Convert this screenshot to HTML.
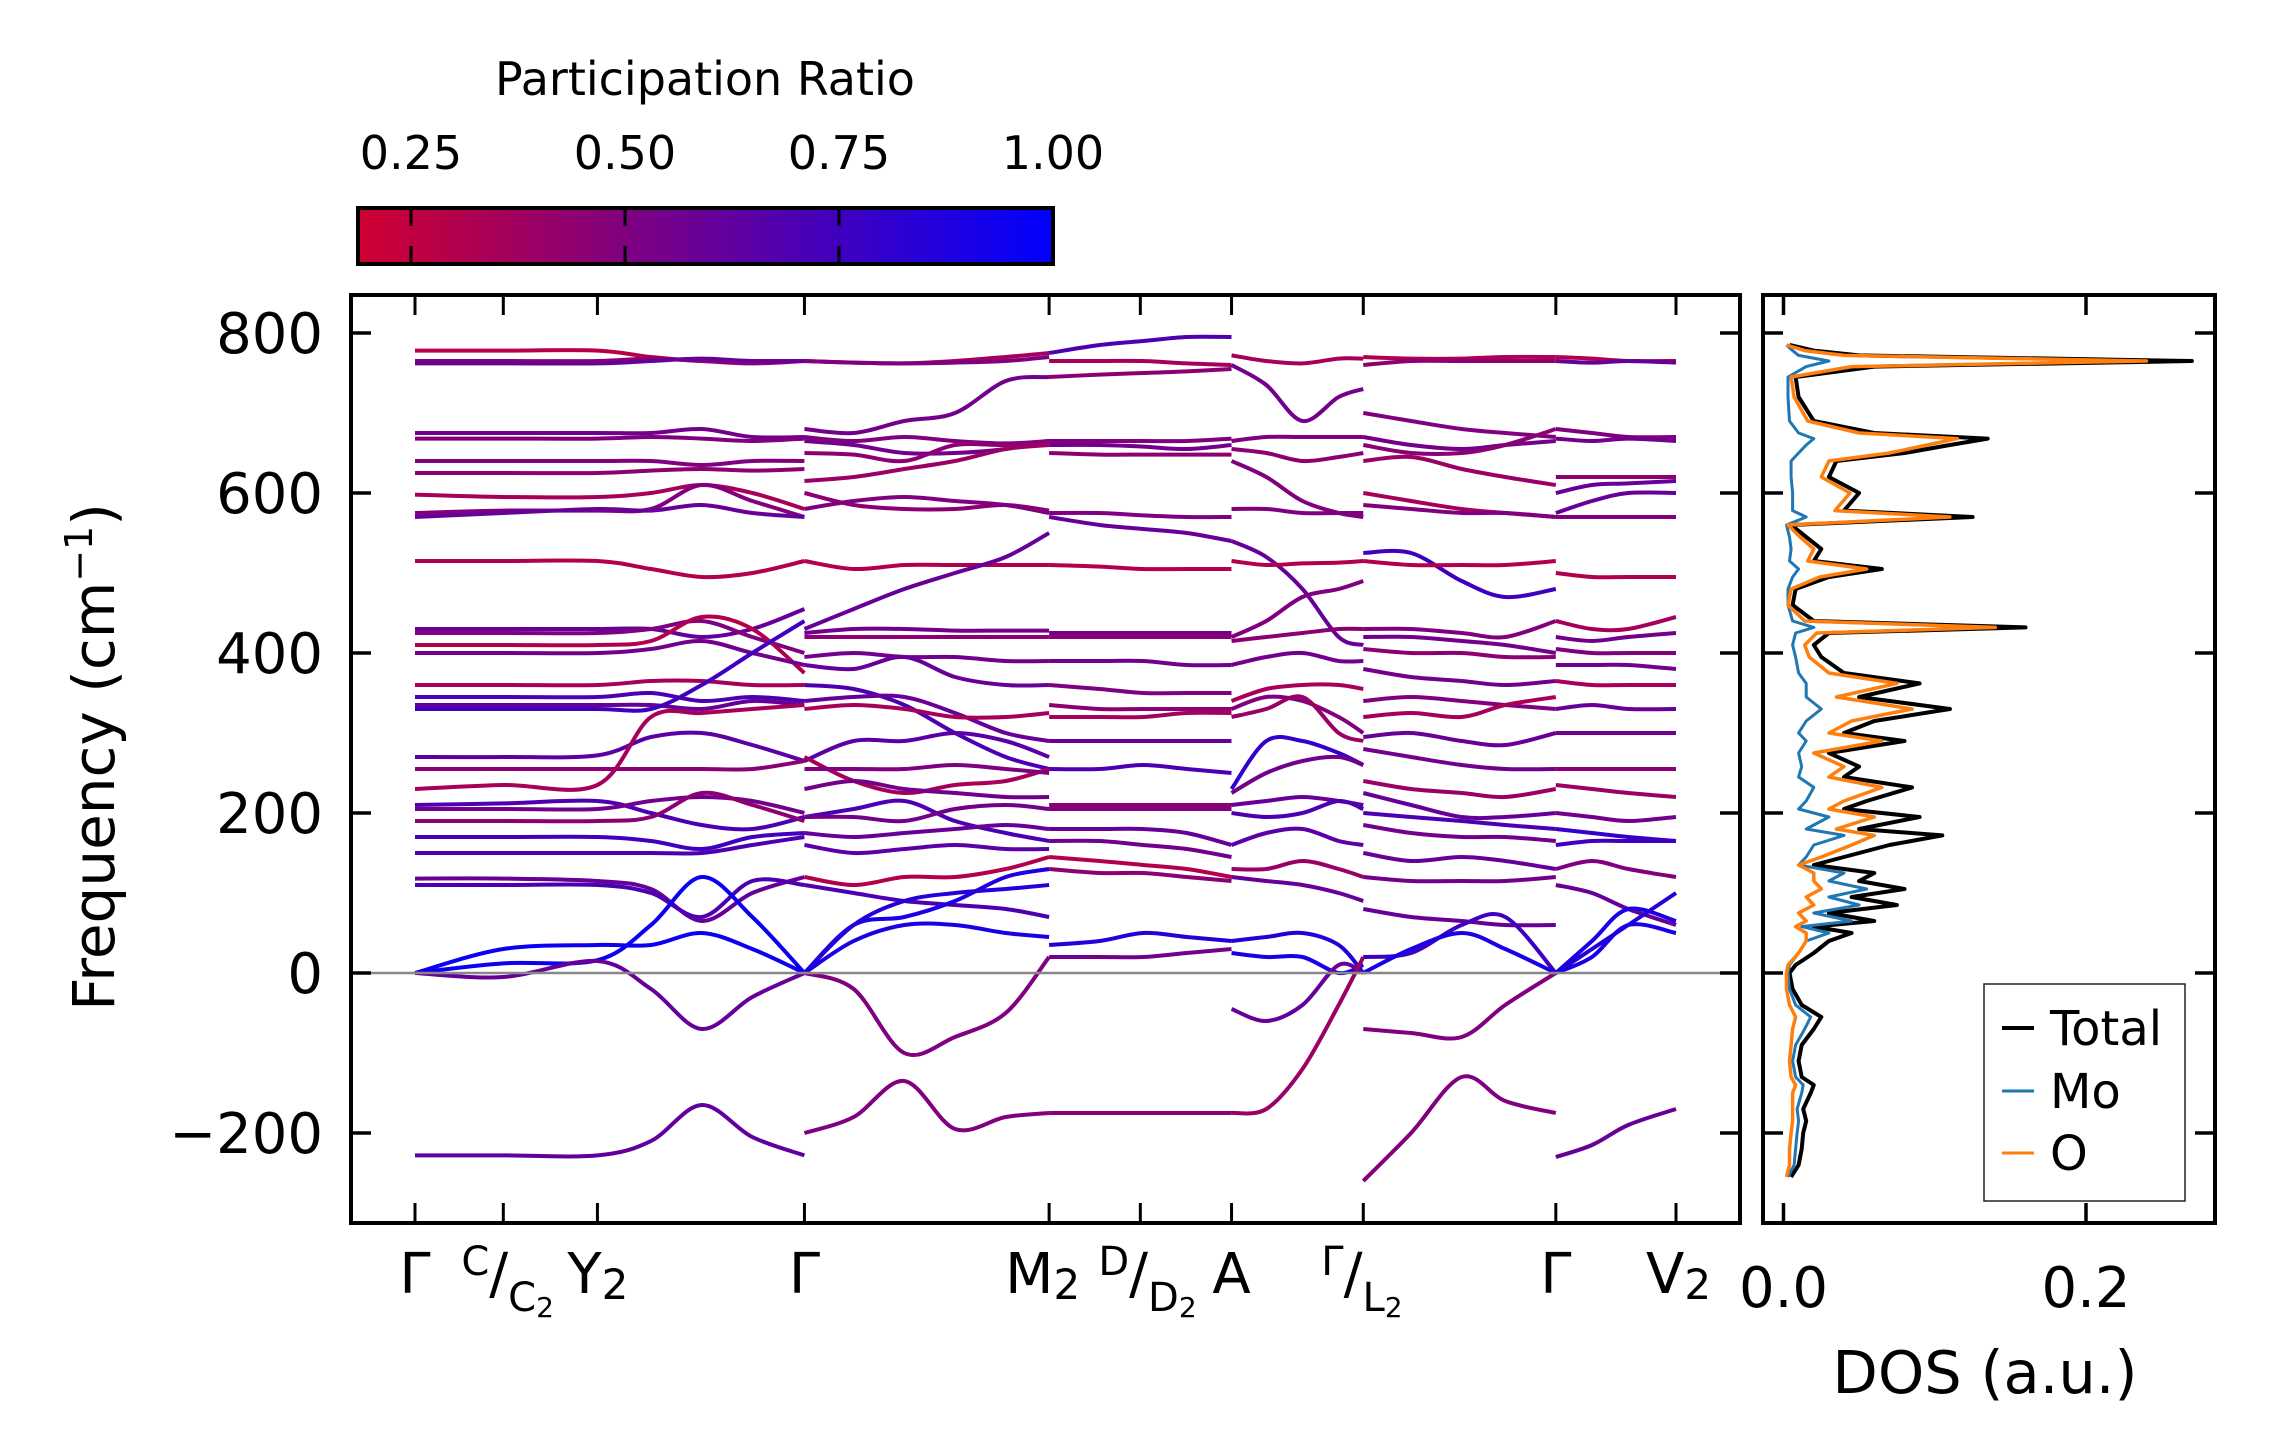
<!DOCTYPE html>
<html><head><meta charset="utf-8"><style>
html,body{margin:0;padding:0;background:#fff;}
svg{display:block;font-family:"DejaVu Sans","Liberation Sans",sans-serif;}
</style></head><body>
<svg id="chart" width="2271" height="1455" viewBox="0 0 2271 1455" xmlns="http://www.w3.org/2000/svg">
<defs>
<linearGradient id="cbgrad" x1="0" x2="1" y1="0" y2="0">
<stop offset="0" stop-color="rgb(208,0,48)"/><stop offset="1" stop-color="rgb(0,0,255)"/>
</linearGradient>
<clipPath id="mainclip"><rect x="351" y="295" width="1389" height="928"/></clipPath>
<clipPath id="dosclip"><rect x="1763" y="295" width="452" height="928"/></clipPath>
</defs>
<g id="colorbar">
<text x="705" y="95" font-size="46" text-anchor="middle">Participation Ratio</text>
<rect x="358" y="208" width="695" height="56" fill="url(#cbgrad)" stroke="#000" stroke-width="4"/>
<g id="cbticks"></g>
</g>
<g id="bands" clip-path="url(#mainclip)"></g>
<line x1="351" x2="1740" y1="973" y2="973" stroke="#888" stroke-width="2.5"/>
<rect x="351" y="295" width="1389" height="928" fill="none" stroke="#000" stroke-width="4"/>
<g id="mainticks"></g>
<text transform="translate(114,757) rotate(-90)" font-size="58" text-anchor="middle">Frequency (cm<tspan dy="-22" font-size="38">−1</tspan><tspan dy="22">)</tspan></text>
<g id="dos" clip-path="url(#dosclip)"></g>
<rect x="1763" y="295" width="452" height="928" fill="none" stroke="#000" stroke-width="4"/>
<g id="dosticks"></g>
<text x="1985" y="1393" font-size="59" text-anchor="middle">DOS (a.u.)</text>
<g>
<rect x="1984" y="984" width="201" height="217" fill="#fff" stroke="#222" stroke-width="1.5"/>
<line x1="2002" x2="2034" y1="1028" y2="1028" stroke="#000" stroke-width="4"/>
<text x="2050" y="1045" font-size="48">Total</text>
<line x1="2002" x2="2034" y1="1091" y2="1091" stroke="#1f77b4" stroke-width="3"/>
<text x="2050" y="1108" font-size="48">Mo</text>
<line x1="2002" x2="2034" y1="1153" y2="1153" stroke="#ff7f0e" stroke-width="3"/>
<text x="2050" y="1170" font-size="48">O</text>
</g>
</svg>
<script>
// ---- data ----
const kTickPos = [0,61,126,269,438,501,564,655,788,871];
const kTickLabels = ['Γ','C/C2','Y2','Γ','M2','D/D2','A','Γ/L2','Γ','V2'];
const yTicks = [-200,0,200,400,600,800];
const cbTicks = [0.25,0.50,0.75,1.00];
const cbTickLabels = ['0.25','0.50','0.75','1.00'];
const dosTicks = [0.0,0.2];
const dosTickLabels = ['0.0','0.2'];

const s1K = [0,61,126,163,198,233,269];
const s1F = [
[778,778,778,770,765,765,765],[765,765,765,768,765,762,765],[762,762,762,765,768,765,765],
[675,675,675,675,680,670,670],[668,668,668,670,668,665,668],[640,640,640,640,635,640,640],
[625,625,625,628,630,628,630],[598,595,595,600,610,600,580],[575,578,578,580,610,590,570],
[570,575,580,578,585,575,570],[515,515,515,505,495,500,515],[430,430,430,430,420,430,455],
[425,425,425,430,440,420,400],[410,410,410,415,445,430,375],[400,400,400,405,415,400,385],
[360,360,360,365,365,360,360],[345,345,345,350,340,345,340],[335,335,335,335,330,340,335],
[330,330,330,330,360,400,440],[270,270,272,295,300,285,265],[255,255,255,255,255,255,265],
[230,235,235,320,325,330,335],[210,212,215,200,185,180,195],[205,205,205,215,220,215,200],
[190,190,190,195,225,210,190],[170,170,170,165,155,170,175],[150,150,150,150,150,160,170],
[118,118,115,105,65,100,120],[110,110,110,100,70,115,110],[0,12,16,60,120,70,0],
[0,30,35,35,50,30,0],[0,-5,15,-20,-70,-30,0],[-228,-228,-228,-210,-165,-205,-228]];
const s1P = [.28,.45,.6,.55,.5,.5,.45,.35,.5,.6,.3,.6,.5,.3,.55,.35,.7,.6,.75,.65,.45,.35,.7,.55,.45,.75,.7,.6,.7,.95,.95,.6,.62];

const s2K = [269,303,338,373,408,438];
const s2F = [
[765,763,762,765,770,775],[765,763,762,763,765,770],[680,675,690,700,740,745],
[670,665,670,665,662,665],[665,660,650,650,655,665],[650,648,640,660,660,665],
[615,620,630,640,655,660],[600,585,580,580,585,578],[580,590,595,590,585,575],
[515,505,510,510,510,510],[430,455,480,500,520,550],[425,430,430,428,428,428],
[420,420,420,420,420,420],[395,400,395,395,390,390],[385,380,395,370,360,360],
[360,355,335,300,270,255],[340,345,345,325,300,290],[330,335,330,320,320,325],
[265,290,290,300,290,270],[270,240,225,235,240,255],[255,255,255,260,255,250],
[230,240,230,225,220,220],[195,205,215,190,175,165],[195,195,190,205,210,205],
[175,170,175,180,185,180],[160,150,155,160,155,155],[120,110,120,120,130,145],
[110,100,90,85,80,70],[0,60,70,90,120,130],[0,60,90,100,105,110],
[0,40,60,60,50,45],[0,-20,-100,-80,-50,20],[-200,-180,-135,-195,-180,-175]];
const s2P = [.35,.5,.55,.5,.55,.45,.4,.45,.5,.3,.6,.55,.45,.55,.6,.7,.6,.35,.65,.35,.5,.55,.7,.55,.6,.65,.3,.7,.9,.85,.9,.5,.5];

const s3K = [438,473,503,533,564];
const s3F = [
[775,785,790,795,795],[765,765,765,762,760],[745,748,750,752,755],
[665,665,665,665,668],[660,660,658,655,660],[650,648,648,648,648],
[575,575,572,570,570],[570,560,555,550,540],[510,508,505,505,505],
[425,425,425,425,425],[420,420,420,420,420],[390,390,390,385,385],
[360,355,350,350,350],[335,330,330,330,330],[320,320,320,325,325],
[255,255,260,255,250],[290,290,290,290,290],[210,210,210,210,210],
[205,205,205,205,205],[180,180,180,175,160],[165,165,160,155,145],
[145,140,135,130,120],[130,125,125,120,115],[35,40,50,45,40],
[20,20,20,25,30],[-175,-175,-175,-175,-175]];
const s3P = [.7,.35,.45,.5,.55,.45,.5,.6,.3,.55,.45,.55,.5,.45,.35,.7,.6,.45,.5,.6,.55,.3,.45,.85,.55,.45];

const s4K = [564,588,613,638,655];
const s4F = [
[772,765,762,768,768],[760,735,690,720,730],[665,670,670,670,670],
[655,650,640,645,650],[640,620,590,575,570],[580,580,575,575,575],
[540,520,480,420,410],[420,440,470,480,490],[515,510,512,513,515],
[415,420,425,430,430],[385,395,400,390,390],[340,355,360,360,355],
[330,345,340,320,300],[320,330,345,300,290],[230,290,290,275,260],
[225,250,265,270,260],[210,215,220,215,210],[200,195,200,215,205],
[160,175,180,165,160],[130,130,140,130,120],[120,115,110,100,90],
[40,45,50,35,0],[25,20,20,0,10],[-45,-60,-40,10,0],[-175,-170,-120,-40,20]];
const s4P = [.35,.55,.5,.45,.5,.5,.6,.5,.3,.45,.55,.35,.5,.4,.8,.55,.6,.7,.65,.4,.6,.85,.9,.6,.4];

const s5K = [655,688,723,753,788];
const s5F = [
[770,768,768,770,770],[760,765,765,765,765],[700,690,680,675,670],
[670,660,655,660,665],[660,650,650,660,680],[640,645,630,620,610],
[600,590,580,575,570],[585,580,575,575,570],[525,525,490,470,480],
[515,510,510,510,515],[430,430,425,420,440],[420,420,415,410,400],
[405,400,400,395,395],[380,370,365,360,365],[340,345,340,335,330],
[320,325,320,335,345],[295,300,290,285,300],[280,270,260,255,255],
[240,230,225,220,230],[225,210,195,195,200],[200,195,190,185,180],
[185,175,170,170,165],[150,140,145,140,130],[120,115,115,115,120],
[80,70,65,60,60],[20,25,60,70,0],[0,30,50,30,0],[-70,-75,-80,-40,0],[-260,-200,-130,-160,-175]];
const s5P = [.3,.45,.5,.55,.45,.4,.35,.5,.75,.3,.5,.55,.45,.55,.5,.35,.6,.55,.4,.6,.7,.55,.6,.55,.6,.75,.9,.5,.5];

const s6K = [788,813,838,871];
const s6F = [
[770,768,765,765],[765,763,765,763],[680,675,670,670],[668,665,668,665],
[620,620,620,620],[600,610,612,615],[575,590,600,600],[570,570,570,570],
[500,495,495,495],[440,430,430,445],[420,415,420,425],[405,400,400,400],
[385,385,385,380],[365,360,360,360],[330,335,330,330],[300,300,300,300],
[255,255,255,255],[235,230,225,220],[200,195,190,195],[180,175,170,165],
[160,165,165,165],[130,140,130,120],[110,100,80,60],[0,40,80,65],
[0,30,60,100],[0,20,60,50],[-230,-215,-190,-170]];
const s6P = [.3,.6,.5,.55,.45,.6,.6,.5,.3,.35,.55,.5,.55,.35,.6,.55,.45,.4,.55,.8,.75,.5,.6,.9,.85,.9,.6];

const dosFreq  = [-255,-240,-220,-200,-185,-170,-150,-140,-130,-110,-90,-70,-55,-40,-20,0,10,25,40,50,58,65,75,85,95,105,115,125,135,145,160,172,180,195,205,215,232,245,258,275,290,300,315,330,345,362,375,395,410,425,432,440,460,480,495,505,515,530,545,560,570,578,600,620,640,650,660,668,675,690,720,745,758,765,772,778,785];
const dosTotal = [.005,.01,.012,.013,.015,.013,.018,.02,.012,.01,.012,.02,.025,.012,.006,.004,.008,.02,.03,.045,.02,.06,.03,.075,.045,.08,.05,.06,.02,.04,.07,.105,.05,.09,.04,.055,.085,.04,.05,.03,.08,.04,.06,.11,.05,.09,.04,.025,.02,.03,.16,.02,.006,.008,.03,.065,.02,.025,.015,.005,.125,.04,.05,.03,.035,.08,.11,.135,.06,.02,.01,.008,.06,.27,.05,.02,.004];
const dosMo    = [.003,.007,.008,.009,.01,.009,.012,.013,.008,.006,.008,.014,.018,.008,.004,.003,.004,.01,.015,.03,.012,.045,.02,.05,.03,.055,.03,.04,.01,.015,.02,.04,.015,.03,.01,.015,.02,.01,.012,.01,.015,.01,.015,.025,.015,.015,.01,.008,.006,.008,.02,.006,.003,.003,.006,.01,.004,.005,.004,.002,.015,.006,.006,.005,.005,.01,.015,.02,.01,.004,.003,.003,.015,.03,.01,.006,.002];
const dosO     = [.002,.004,.004,.005,.006,.006,.006,.008,.005,.004,.005,.006,.008,.004,.002,.002,.003,.01,.015,.015,.008,.015,.01,.02,.015,.025,.02,.02,.01,.025,.045,.06,.035,.06,.03,.04,.065,.03,.04,.02,.065,.03,.045,.085,.035,.075,.03,.017,.014,.022,.14,.014,.003,.005,.024,.055,.016,.02,.011,.003,.11,.034,.044,.025,.03,.07,.095,.115,.05,.016,.007,.005,.045,.24,.04,.014,.002];

// ---- scales ----
const NS='http://www.w3.org/2000/svg';
const kx = k => 415 + k*(1676-415)/871;
const fy = f => 973 - f*0.8;
const dx = d => 1783.5 + d*1512.5;
const cbx = p => 1053 - (1-p)*856;
function prColor(p){ let t=(p-0.187)/(1-0.187); t=Math.max(0,Math.min(1,t));
  return `rgb(${Math.round(208*(1-t))},0,${Math.round(48+207*t)})`; }
function mk(tag,attrs,parent){ const e=document.createElementNS(NS,tag); for(const a in attrs) e.setAttribute(a,attrs[a]); parent.appendChild(e); return e; }
function smoothPath(xs,ys){
  let d=`M${xs[0]},${ys[0]}`;
  for(let i=0;i<xs.length-1;i++){
    const x0=xs[Math.max(0,i-1)],y0=ys[Math.max(0,i-1)],x1=xs[i],y1=ys[i],x2=xs[i+1],y2=ys[i+1],x3=xs[Math.min(xs.length-1,i+2)],y3=ys[Math.min(xs.length-1,i+2)];
    const c1x=x1+(x2-x0)/6,c1y=y1+(y2-y0)/6,c2x=x2-(x3-x1)/6,c2y=y2-(y3-y1)/6;
    d+=` C${c1x.toFixed(1)},${c1y.toFixed(1)} ${c2x.toFixed(1)},${c2y.toFixed(1)} ${x2.toFixed(1)},${y2.toFixed(1)}`;
  }
  return d;
}
// bands
const bandsG=document.getElementById('bands');
[[s1K,s1F,s1P],[s2K,s2F,s2P],[s3K,s3F,s3P],[s4K,s4F,s4P],[s5K,s5F,s5P],[s6K,s6F,s6P]].forEach((seg,si)=>{
  const [K,F,P]=seg;
  F.forEach((band,bi)=>{
    const p=mk('path',{d:smoothPath(K.map(kx),band.map(fy)),fill:'none',stroke:prColor(P[bi]!==undefined?P[bi]:0.55),'stroke-width':4},bandsG);
    
    
  });
});
// main ticks
const mt=document.getElementById('mainticks');
yTicks.forEach(v=>{
  const y=fy(v);
  let l=mk('line',{x1:351,x2:371,y1:y,y2:y,stroke:'#000','stroke-width':3.5},mt);
   
  l=mk('line',{x1:1720,x2:1740,y1:y,y2:y,stroke:'#000','stroke-width':3.5},mt);
   
  const t=mk('text',{x:323,y:y+20,'font-size':56,'text-anchor':'end'},mt);
  t.textContent=(v<0?'−'+Math.abs(v):String(v));
   
});
kTickPos.forEach((k,i)=>{
  const x=kx(k);
  let l=mk('line',{x1:x,x2:x,y1:295,y2:315,stroke:'#000','stroke-width':3},mt);
   
  l=mk('line',{x1:x,x2:x,y1:1203,y2:1223,stroke:'#000','stroke-width':3},mt);
   
  const lab=kTickLabels[i];
  const t=mk('text',{y:1293,'font-size':56},mt);
   
  if(lab.includes('/')){
    const [a,b]=lab.split('/');
    t.setAttribute('x',x-42);
    const s1=mk('tspan',{'font-size':40,dy:-18},t); s1.textContent=a;
    const s2=mk('tspan',{dy:18},t); s2.textContent='/';
    const s3=mk('tspan',{'font-size':40,dy:18},t); s3.textContent=b[0];
    if(b.length>1){const s4=mk('tspan',{'font-size':28,dy:6},t); s4.textContent=b.slice(1);}
  } else {
    if(lab.length>1){
      const off = lab[0]==='M' ? 44 : 30;
      t.setAttribute('x',x-off);
      const s1=mk('tspan',{},t); s1.textContent=lab[0];
      const s2=mk('tspan',{'font-size':42,dy:6},t); s2.textContent=lab.slice(1);
    } else { t.setAttribute('x',x); t.setAttribute('text-anchor','middle'); t.textContent=lab; }
  }
});
// colorbar ticks
const cbt=document.getElementById('cbticks');
cbTicks.forEach((v,i)=>{
  const x=cbx(v);
  if(v<1){
    let l=mk('line',{x1:x,x2:x,y1:208,y2:226,stroke:'#000','stroke-width':3},cbt);
     
    l=mk('line',{x1:x,x2:x,y1:246,y2:264,stroke:'#000','stroke-width':3},cbt);
     
  }
  const t=mk('text',{x:x,y:169,'font-size':46,'text-anchor':'middle'},cbt);
  t.textContent=cbTickLabels[i];
   
});
// DOS
const dg=document.getElementById('dos');
[[dosTotal,'#000',4,'dos-total-line'],[dosMo,'#1f77b4',3,'dos-mo-line'],[dosO,'#ff7f0e',3.5,'dos-o-line']].forEach(s=>{
  const pts=dosFreq.map((f,i)=>`${dx(s[0][i]).toFixed(1)},${fy(f).toFixed(1)}`).join(' ');
  const p=mk('polyline',{points:pts,fill:'none',stroke:s[1],'stroke-width':s[2],'stroke-linejoin':'round'},dg);
  
  
});
const dt=document.getElementById('dosticks');
yTicks.forEach(v=>{
  const y=fy(v);
  let l=mk('line',{x1:1763,x2:1783,y1:y,y2:y,stroke:'#000','stroke-width':3.5},dt);
   
  l=mk('line',{x1:2195,x2:2215,y1:y,y2:y,stroke:'#000','stroke-width':3.5},dt);
   
});
dosTicks.forEach((v,i)=>{
  const x=dx(v);
  let l=mk('line',{x1:x,x2:x,y1:295,y2:315,stroke:'#000','stroke-width':3.5},dt);
   
  l=mk('line',{x1:x,x2:x,y1:1203,y2:1223,stroke:'#000','stroke-width':3.5},dt);
   
  const t=mk('text',{x:x,y:1307,'font-size':56,'text-anchor':'middle'},dt);
  t.textContent=dosTickLabels[i];
   
});
</script>
</body></html>
